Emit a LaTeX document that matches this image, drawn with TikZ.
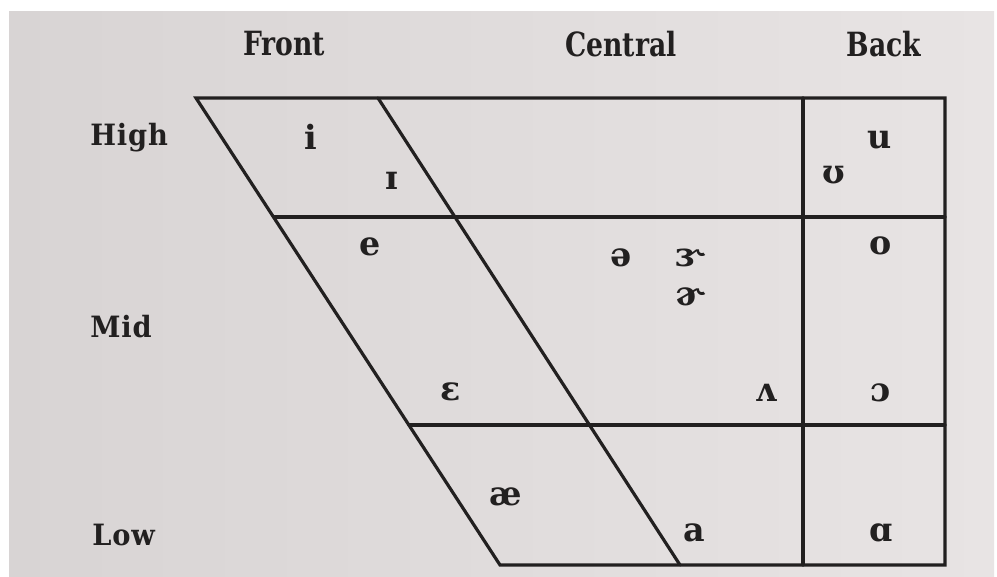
\documentclass[tikz,border=0pt]{standalone}
\usepackage{fontspec}
\setmainfont{DejaVu Serif}
\newfontfamily\labelfont{DejaVu Serif}[FakeStretch=0.93, LetterSpace=3]
\newfontfamily\headfont{DejaVu Serif}[FakeStretch=0.8]
\newfontfamily\ipafont{DejaVu Serif}
\definecolor{paperL}{RGB}{216,212,212}
\definecolor{paperR}{RGB}{232,228,228}
\definecolor{ink}{RGB}{34,32,32}
\tikzset{
  grid line/.style={draw=ink, line width=2.4pt, line cap=round, line join=miter},
  rowlab/.style={text=ink, font=\labelfont\bfseries\fontsize{22}{24}\selectfont, anchor=west, inner sep=0pt},
  collab/.style={text=ink, font=\headfont\bfseries\fontsize{25}{27}\selectfont, inner sep=0pt},
  vowel/.style={text=ink, font=\ipafont\bfseries\fontsize{25}{27}\selectfont, inner sep=0pt}
}
\begin{document}
\begin{tikzpicture}[x=0.75pt,y=-0.75pt]
  \useasboundingbox (0,0) rectangle (997,577);
  % page photo with white margin
  \fill[white] (0,0) rectangle (997,577);
  \shade[left color=paperL, right color=paperR] (9,12) rectangle (994,577);

  % chart corners
  \coordinate (tl) at (196,98);
  \coordinate (tm) at (378,98);
  \coordinate (tb) at (803,98);
  \coordinate (tr) at (945,98);
  \coordinate (bl) at (500,565);
  \coordinate (bm) at (680,565);
  \coordinate (bb) at (803,565);
  \coordinate (br) at (945,565);
  \coordinate (h1l) at (274,217);
  \coordinate (h1r) at (945,217);
  \coordinate (h2l) at (409,425);
  \coordinate (h2r) at (945,425);

  % outline and dividers
  \draw[grid line] (tl) -- (tr) -- (br) -- (bl) -- cycle;
  \draw[grid line] (tm) -- (bm);
  \draw[grid line] (tb) -- (bb);
  \draw[grid line] (h1l) -- (h1r);
  \draw[grid line] (h2l) -- (h2r);

  % column headings
  \node[collab] (front) at (284,44) {Front};
  \node[collab] (central) at (621,44) {Central};
  \node[collab] (back) at (884,44) {Back};

  % row headings
  \node[rowlab] (high) at (90,138) {High};
  \node[rowlab] (mid) at (90,327) {Mid};
  \node[rowlab] (low) at (92,535) {Low};

  % vowels
  \node[vowel] (v-i) at (311,137) {i};
  \node[vowel] (v-I) at (392,181) {ɪ};
  \node[vowel] (v-e) at (370,247) {e};
  \node[vowel] (v-schwa) at (621,258) {ə};
  \node[vowel] (v-er) at (691,258) {ɝ};
  \node[vowel] (v-hook) at (691,297) {ɚ};
  \node[vowel] (v-eps) at (451,392) {ɛ};
  \node[vowel] (v-wedge) at (766,393) {ʌ};
  \node[vowel] (v-ae) at (506,497) {æ};
  \node[vowel] (v-a) at (694,533) {a};
  \node[vowel] (v-u) at (880,140) {u};
  \node[vowel] (v-U) at (834,175) {ʊ};
  \node[vowel] (v-o) at (881,246) {o};
  \node[vowel] (v-open) at (881,393) {ɔ};
  \node[vowel] (v-alpha) at (881,533) {ɑ};
\end{tikzpicture}
\end{document}
